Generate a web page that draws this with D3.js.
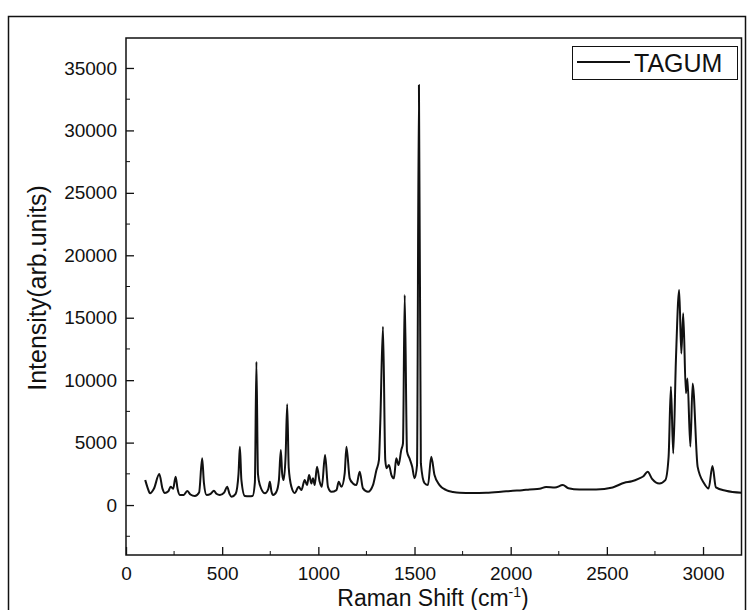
<!DOCTYPE html>
<html>
<head>
<meta charset="utf-8">
<script src="https://cdn.jsdelivr.net/npm/d3@7/dist/d3.min.js"></script>
<style>
  body { margin: 0; background: #fff; }
  text { font-family: "Liberation Sans", Arial, sans-serif; fill: #111; }
</style>
</head>
<body>
<div id="chart"></div>
<script>
// Raman spectrum, values
var ramanShift = [100, 112, 125, 145, 173, 190, 202, 220, 232, 245, 258, 268, 280, 300, 318, 335, 358, 380, 396, 405,
  419, 440, 457, 470, 488, 510, 526, 538, 549, 570, 585, 592, 600, 618, 640, 658, 670, 678, 686, 696,
  722, 740, 748, 756, 765, 782, 795, 805, 812, 819, 830, 838, 846, 860, 877, 898, 912, 929, 941, 952,
  964, 972, 981, 993, 1007, 1018, 1035, 1050, 1068, 1094, 1106, 1120, 1137, 1146, 1163, 1180, 1198, 1215, 1232, 1258,
  1284, 1302, 1315, 1322, 1336, 1348, 1355, 1367, 1380, 1393, 1405, 1417, 1431, 1440, 1449, 1461, 1475, 1488, 1500, 1513,
  1523, 1533, 1552, 1570, 1587, 1604, 1630, 1665, 1700, 1734, 1800, 1873, 1950, 2011, 2060, 2098, 2150, 2184, 2230, 2271,
  2300, 2357, 2444, 2530, 2591, 2630, 2669, 2690, 2712, 2735, 2773, 2804, 2821, 2833, 2845, 2859, 2876, 2887, 2897, 2911,
  2919, 2934, 2946, 2972, 3006, 3029, 3049, 3067, 3119, 3200];
var intensity = [2000, 1400, 940, 1300, 2480, 1300, 960, 1100, 1470, 1300, 2270, 1300, 800, 800, 1120, 850, 720, 1000, 3740, 1800,
  800, 900, 1150, 900, 800, 1000, 1460, 900, 670, 900, 2500, 4660, 2000, 720, 700, 720, 1800, 11470, 2500, 1600,
  940, 1300, 1860, 1100, 800, 1060, 2000, 4400, 2500, 2000, 4000, 8080, 3000, 1460, 960, 1460, 1200, 2000, 1600, 2400,
  1730, 2150, 1600, 3060, 1860, 1460, 4000, 1460, 1060, 1200, 1860, 1460, 2540, 4670, 2140, 1730, 1600, 2660, 1330, 1060,
  1600, 2800, 3600, 6570, 14280, 3600, 2950, 3200, 2400, 2140, 3740, 3200, 4400, 4930, 16820, 4300, 3700, 3060, 2150, 3200,
  33630, 3330, 1750, 1600, 3870, 2400, 1600, 1200, 1050, 980, 960, 980, 1060, 1140, 1180, 1250, 1300, 1450, 1400, 1600,
  1350, 1250, 1250, 1410, 1790, 1900, 2140, 2300, 2670, 2100, 1730, 2000, 3870, 9480, 4130, 11600, 17220, 12140, 15350, 8950,
  10140, 4670, 9740, 3060, 1730, 1330, 3120, 1410, 1140, 980];

var xTicks = [0, 500, 1000, 1500, 2000, 2500, 3000];
var xMinor = [250, 750, 1250, 1750, 2250, 2750];
var yTicks = [0, 5000, 10000, 15000, 20000, 25000, 30000, 35000];
var yMinor = [-2500, 2500, 7500, 12500, 17500, 22500, 27500, 32500];
var seriesName = 'TAGUM';

var width = 747, height = 610;
var plotLeft = 126, plotRight = 741.5, plotTop = 38, plotBottom = 555;

var svg = d3.select('#chart').append('svg')
  .attr('width', width)
  .attr('height', height);

// outer frame of the figure
svg.append('rect')
  .attr('x', 8.5).attr('y', 16.5)
  .attr('width', 737).attr('height', 620)
  .attr('fill', 'none').attr('stroke', '#111').attr('stroke-width', 1.5);

var x = d3.scaleLinear().domain([0, 3200]).range([plotLeft, plotRight]);
var y = d3.scaleLinear().domain([-4000, 37400]).range([plotBottom, plotTop]);

// bottom axis, ticks point inward
var xAxis = svg.append('g')
  .attr('transform', 'translate(0,' + plotBottom + ')')
  .call(d3.axisBottom(x).tickValues(xTicks).tickSize(-8).tickFormat(d3.format('d')));
xAxis.append('g').selectAll('line').data(xMinor).enter().append('line')
  .attr('x1', function(d) { return x(d); }).attr('x2', function(d) { return x(d); })
  .attr('y1', 0).attr('y2', -4).attr('stroke', '#111');

var yAxis = svg.append('g')
  .attr('transform', 'translate(' + plotLeft + ',0)')
  .call(d3.axisLeft(y).tickValues(yTicks).tickSize(-8).tickFormat(d3.format('d')));
yAxis.append('g').selectAll('line').data(yMinor).enter().append('line')
  .attr('y1', function(d) { return y(d); }).attr('y2', function(d) { return y(d); })
  .attr('x1', 0).attr('x2', 4).attr('stroke', '#111');

svg.selectAll('.domain').remove();
svg.selectAll('.tick line').attr('stroke', '#111').attr('stroke-width', 1.3);
xAxis.selectAll('.tick text').attr('y', 12).attr('font-size', 19);
yAxis.selectAll('.tick text').attr('x', -9).attr('font-size', 19);
svg.selectAll('.tick text').attr('fill', '#111').style('font-family', '"Liberation Sans", Arial, sans-serif');

// plot frame
svg.append('rect')
  .attr('x', plotLeft).attr('y', plotTop)
  .attr('width', plotRight - plotLeft).attr('height', plotBottom - plotTop)
  .attr('fill', 'none').attr('stroke', '#111').attr('stroke-width', 1.5);

// spectrum
var line = d3.line()
  .x(function(d, i) { return x(ramanShift[i]); })
  .y(function(d) { return y(d); })
  .curve(d3.curveMonotoneX);
svg.append('path')
  .datum(intensity)
  .attr('d', line)
  .attr('fill', 'none')
  .attr('stroke', '#111')
  .attr('stroke-width', 2)
  .attr('stroke-linejoin', 'round');

// axis titles
var xt = svg.append('text')
  .attr('x', 433).attr('y', 606)
  .attr('text-anchor', 'middle')
  .attr('font-size', 23);
xt.append('tspan').text('Raman Shift (cm');
xt.append('tspan').attr('font-size', 14).attr('dy', -9).text('-1');
xt.append('tspan').attr('dy', 9).text(')');

svg.append('text')
  .attr('transform', 'translate(46,288) rotate(-90)')
  .attr('text-anchor', 'middle')
  .attr('font-size', 25)
  .text('Intensity(arb.units)');

// legend
svg.append('rect')
  .attr('x', 572.5).attr('y', 46.5)
  .attr('width', 165).attr('height', 33)
  .attr('fill', '#fff').attr('stroke', '#111').attr('stroke-width', 1);
svg.append('line')
  .attr('x1', 577).attr('x2', 630)
  .attr('y1', 62).attr('y2', 62)
  .attr('stroke', '#111').attr('stroke-width', 2);
svg.append('text')
  .attr('x', 634).attr('y', 72)
  .attr('font-size', 25)
  .text(seriesName);
</script>
</body>
</html>
